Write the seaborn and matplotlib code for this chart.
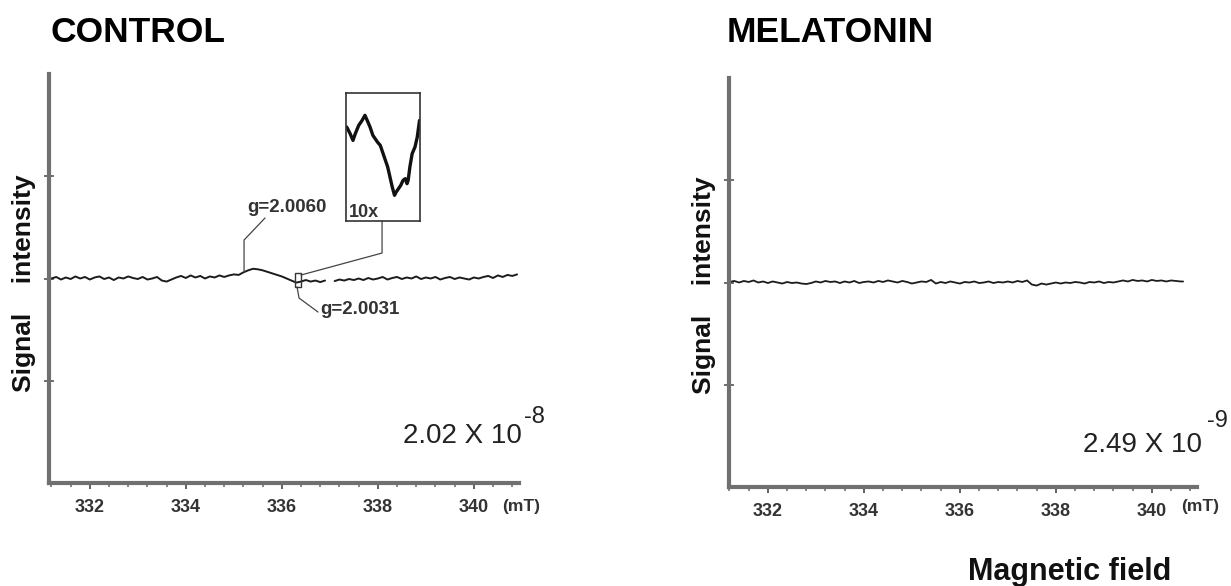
import numpy as np
import pandas as pd
import matplotlib
matplotlib.use("Agg")
import matplotlib.pyplot as plt
from matplotlib.patches import Rectangle
from matplotlib.ticker import MultipleLocator
import seaborn as sns

# ---------------- data ----------------
panel_titles = ["CONTROL", "MELATONIN"]
scale_text = ["2.02 X 10", "2.49 X 10"]
scale_exp = ["-8", "-9"]
x_ticks = [332, 334, 336, 338, 340]
x_tick_labels = ["332", "334", "336", "338", "340"]

# Control trace, segment 1 (before the small break)
ctrl_field_1 = [331.2, 331.3, 331.4, 331.5, 331.6, 331.7, 331.8, 331.9, 332.0, 332.1,
                332.2, 332.3, 332.4, 332.5, 332.6, 332.7, 332.8, 332.9, 333.0, 333.1,
                333.2, 333.3, 333.4, 333.5, 333.6, 333.7, 333.8, 333.9, 334.0, 334.1,
                334.2, 334.3, 334.4, 334.5, 334.6, 334.7, 334.8, 334.9, 335.0, 335.1,
                335.2, 335.3, 335.4, 335.5, 335.6, 335.7, 335.8, 335.9, 336.0, 336.1,
                336.2, 336.3, 336.4, 336.5, 336.6, 336.7, 336.8, 336.9]
ctrl_signal_1 = [0.00, 0.015, -0.01, 0.01, -0.005, 0.02, 0.00, 0.015, -0.01, 0.01,
                 0.02, -0.005, 0.01, -0.015, 0.01, 0.00, 0.02, 0.005, -0.005, 0.015,
                 -0.01, 0.00, 0.015, -0.02, -0.03, -0.01, 0.01, 0.025, 0.005, 0.03,
                 0.01, 0.025, 0.00, 0.02, 0.01, 0.03, 0.015, 0.03, 0.04, 0.035,
                 0.06, 0.08, 0.095, 0.09, 0.08, 0.065, 0.05, 0.035, 0.02, 0.00,
                 -0.02, -0.04, -0.03, -0.015, -0.03, -0.02, -0.035, -0.02]
# Control trace, segment 2 (after the break)
ctrl_field_2 = [337.1, 337.2, 337.3, 337.4, 337.5, 337.6, 337.7, 337.8, 337.9, 338.0,
                338.1, 338.2, 338.3, 338.4, 338.5, 338.6, 338.7, 338.8, 338.9, 339.0,
                339.1, 339.2, 339.3, 339.4, 339.5, 339.6, 339.7, 339.8, 339.9, 340.0,
                340.1, 340.2, 340.3, 340.4, 340.5, 340.6, 340.7, 340.8, 340.9]
ctrl_signal_2 = [-0.025, -0.01, -0.02, -0.005, -0.015, 0.00, -0.015, 0.005, -0.01, 0.00,
                 0.015, -0.01, 0.005, 0.015, -0.005, 0.01, 0.00, 0.02, -0.005, 0.01,
                 0.00, 0.015, -0.01, 0.005, 0.015, -0.005, 0.01, 0.00, -0.01, 0.01,
                 0.00, 0.015, 0.025, 0.005, 0.03, 0.015, 0.035, 0.025, 0.04]

# Melatonin trace
mel_field = [331.2, 331.3, 331.4, 331.5, 331.6, 331.7, 331.8, 331.9, 332.0, 332.1,
             332.2, 332.3, 332.4, 332.5, 332.6, 332.7, 332.8, 332.9, 333.0, 333.1,
             333.2, 333.3, 333.4, 333.5, 333.6, 333.7, 333.8, 333.9, 334.0, 334.1,
             334.2, 334.3, 334.4, 334.5, 334.6, 334.7, 334.8, 334.9, 335.0, 335.1,
             335.2, 335.3, 335.4, 335.5, 335.6, 335.7, 335.8, 335.9, 336.0, 336.1,
             336.2, 336.3, 336.4, 336.5, 336.6, 336.7, 336.8, 336.9, 337.0, 337.1,
             337.2, 337.3, 337.4, 337.5, 337.6, 337.7, 337.8, 337.9, 338.0, 338.1,
             338.2, 338.3, 338.4, 338.5, 338.6, 338.7, 338.8, 338.9, 339.0, 339.1,
             339.2, 339.3, 339.4, 339.5, 339.6, 339.7, 339.8, 339.9, 340.0, 340.1,
             340.2, 340.3, 340.4, 340.5, 340.6, 340.65]
mel_signal = [0.005, 0.015, 0.00, 0.015, 0.005, 0.02, 0.00, 0.01, -0.005, 0.01,
              0.00, -0.01, 0.005, -0.005, 0.00, -0.01, -0.015, -0.005, 0.01, 0.00,
              0.015, 0.005, 0.01, -0.005, 0.01, 0.00, 0.015, -0.005, 0.005, 0.01,
              0.00, 0.015, 0.005, 0.02, 0.01, 0.00, 0.015, 0.005, -0.01, 0.00,
              0.01, 0.005, 0.025, -0.01, 0.005, -0.005, 0.01, 0.00, -0.01, 0.005,
              0.00, 0.01, -0.005, 0.00, 0.01, -0.005, 0.005, 0.00, 0.01, 0.00,
              0.015, 0.005, 0.02, -0.02, -0.03, -0.01, -0.02, -0.01, 0.00, -0.01,
              0.00, -0.005, 0.005, 0.00, -0.01, 0.005, 0.00, 0.01, -0.005, 0.005,
              0.00, 0.01, 0.02, 0.01, 0.025, 0.015, 0.02, 0.01, 0.025, 0.015,
              0.02, 0.01, 0.02, 0.015, 0.01, 0.01]

# 10x magnified inset of the g=2.0031 region
inset_field = [336.271, 336.277, 336.282, 336.286, 336.292, 336.298, 336.303, 336.307,
               336.312, 336.317, 336.321, 336.325, 336.330, 336.334, 336.339, 336.343,
               336.347, 336.351, 336.355, 336.358, 336.362, 336.366, 336.370, 336.374,
               336.377, 336.379, 336.382, 336.386, 336.391, 336.395, 336.399]
inset_signal = [0.734, 0.682, 0.630, 0.682, 0.747, 0.786, 0.826, 0.786,
                0.734, 0.669, 0.643, 0.617, 0.591, 0.539, 0.474, 0.422,
                0.344, 0.266, 0.201, 0.227, 0.253, 0.279, 0.318, 0.331,
                0.292, 0.318, 0.422, 0.526, 0.578, 0.656, 0.786]

g_labels = ["g=2.0060", "g=2.0031"]

# ---------------- styling ----------------
sns.set_theme(style="white")
plt.rcParams["font.family"] = ["Liberation Sans", "DejaVu Sans"]

W, H = 1231, 586
fig = plt.figure(figsize=(W / 100, H / 100), dpi=100)
fig.patch.set_facecolor("white")

ax_l = fig.add_axes([49 / W, 1 - 483 / H, 470 / W, 409 / H])
ax_r = fig.add_axes([729 / W, 1 - 487 / H, 468 / W, 409 / H])

df_ctrl = pd.DataFrame({
    "field": ctrl_field_1 + ctrl_field_2,
    "signal": ctrl_signal_1 + ctrl_signal_2,
    "seg": [1] * len(ctrl_field_1) + [2] * len(ctrl_field_2),
})
df_mel = pd.DataFrame({"field": mel_field, "signal": mel_signal, "seg": 1})
df_ins = pd.DataFrame({"field": inset_field, "signal": inset_signal})

line_col = "#1c1c1c"
sns.lineplot(data=df_ctrl, x="field", y="signal", units="seg", estimator=None,
             color=line_col, lw=1.4, ax=ax_l, legend=False)
sns.lineplot(data=df_mel, x="field", y="signal", units="seg", estimator=None,
             color=line_col, lw=1.3, ax=ax_r, legend=False)

spine_col = "#707070"
for ax, xl in ((ax_l, (331.15, 340.94)), (ax_r, (331.19, 340.94))):
    ax.set_xlim(*xl)
    ax.set_ylim(-2, 2)
    ax.set_facecolor("white")
    for s in ("top", "right"):
        ax.spines[s].set_visible(False)
    for s in ("left", "bottom"):
        ax.spines[s].set_color(spine_col)
        ax.spines[s].set_linewidth(3.0)
    ax.set_xticks(x_ticks)
    ax.set_xticklabels(x_tick_labels)
    ax.xaxis.set_minor_locator(MultipleLocator(0.4))
    ax.set_yticks([-1, 0, 1])
    ax.set_yticklabels([])
    ax.tick_params(axis="x", which="major", direction="out", length=4.5, width=1.3,
                   color="#555555", pad=7, labelsize=13, labelcolor="#333333",
                   bottom=True)
    ax.tick_params(axis="x", which="minor", direction="out", length=3, width=1.1,
                   color="#666666", bottom=True)
    ax.tick_params(axis="y", which="major", direction="inout", length=7, width=1.2,
                   color="#555555", left=True)
    for lab in ax.get_xticklabels():
        lab.set_fontweight("bold")
    ax.set_xlabel("")
    ax.set_ylabel("Signal    intensity", fontsize=19, fontweight="bold",
                  color="#111111", va="center")
    ax.grid(False)

ax_l.yaxis.set_label_coords(-0.053, 0.488)
ax_r.yaxis.set_label_coords(-0.053, 0.493)

# (mT) unit labels
fig.text(521 / W, 1 - 507 / H, "(mT)", fontsize=12.5, fontweight="bold",
         color="#333333", ha="center", va="center")
fig.text(1200 / W, 1 - 507 / H, "(mT)", fontsize=12.5, fontweight="bold",
         color="#333333", ha="center", va="center")

# Titles
fig.text(50 / W, 1 - 42 / H, panel_titles[0], fontsize=25.5, fontweight="bold",
         color="black", ha="left", va="baseline")
fig.text(727 / W, 1 - 42 / H, panel_titles[1], fontsize=25.5, fontweight="bold",
         color="black", ha="left", va="baseline")

# Scale factors
fig.text(522 / W, 1 - 443 / H, scale_text[0], fontsize=20, color="#222222",
         ha="right", va="baseline")
fig.text(524 / W, 1 - 423 / H, scale_exp[0], fontsize=17, color="#222222",
         ha="left", va="baseline")
fig.text(1202 / W, 1 - 452 / H, scale_text[1], fontsize=20, color="#222222",
         ha="right", va="baseline")
fig.text(1207 / W, 1 - 427 / H, scale_exp[1], fontsize=17, color="#222222",
         ha="left", va="baseline")

# Magnetic field label
fig.text(1070 / W, 1 - 580 / H, "Magnetic field", fontsize=22, fontweight="bold",
         color="#111111", ha="center", va="baseline")

# ---------------- annotations on control panel ----------------
lead_col = "#444444"
ax_l.plot([335.65, 335.213, 335.213], [0.592, 0.376, 0.064], color=lead_col, lw=0.9,
          clip_on=False)
ax_l.text(336.11, 0.69, g_labels[0], fontsize=13.5, fontweight="bold", color="#333333",
          ha="center", va="center")

ax_l.add_patch(Rectangle((336.275, -0.083), 0.125, 0.137, fill=False, ec="#333333",
                         lw=1.0, zorder=5))
ax_l.plot([338.0875, 338.0875, 336.40], [0.562, 0.249, 0.034], color=lead_col, lw=0.9,
          clip_on=False)
ax_l.plot([336.317, 336.358, 336.754], [-0.083, -0.191, -0.328], color=lead_col, lw=0.9,
          clip_on=False)
ax_l.text(336.796, -0.308, g_labels[1], fontsize=13.5, fontweight="bold", color="#333333",
          ha="left", va="center")

ins = ax_l.inset_axes([337.34, 0.562, 1.54, 1.252], transform=ax_l.transData)
sns.lineplot(data=df_ins, x="field", y="signal", color="#111111", lw=2.4, ax=ins,
             legend=False)
ins.set_xlim(336.27, 336.40)
ins.set_ylim(0, 1)
ins.set_xticks([])
ins.set_yticks([])
ins.set_xlabel("")
ins.set_ylabel("")
ins.set_facecolor("white")
for s in ins.spines.values():
    s.set_visible(True)
    s.set_color("#333333")
    s.set_linewidth(1.2)
ins.text(0.03, 0.07, "10x", transform=ins.transAxes, fontsize=13, fontweight="bold",
         color="#333333", ha="left", va="center")

fig.savefig("out.png", dpi=100, facecolor="white")
